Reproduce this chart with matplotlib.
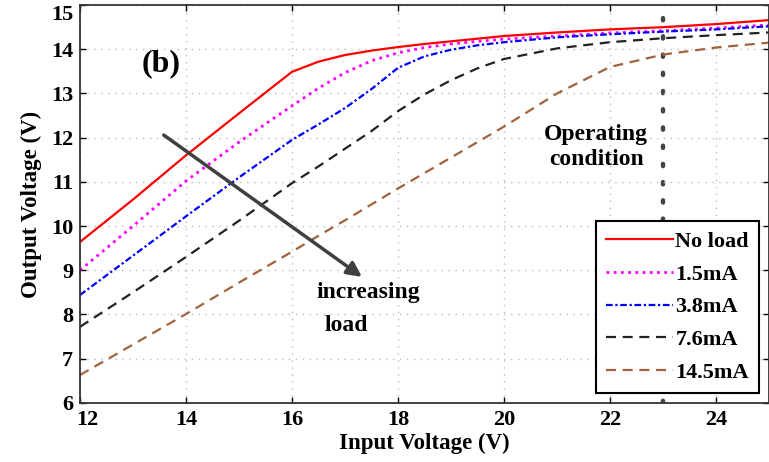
import numpy as np
import matplotlib
matplotlib.use('Agg')
import matplotlib.pyplot as plt
import matplotlib.transforms as mtransforms

plt.rc('font', family='serif', weight='bold')
plt.rc('font', serif=['Liberation Serif', 'DejaVu Serif'])
plt.rc('axes', labelweight='bold')

# input voltage grid (V)
vin = [12, 13, 14, 15, 16, 16.5, 17, 17.5, 18, 18.5, 19, 19.5, 20, 21, 22, 23, 24, 25]

# output voltage for each load (V)
noLoad = [9.64, 10.6, 11.6, 12.55, 13.49, 13.72, 13.87, 13.97, 14.05, 14.12, 14.18, 14.24,
          14.30, 14.38, 14.45, 14.50, 14.57, 14.66]
load1p5 = [9.0, 10.0, 11.02, 11.9, 12.72, 13.12, 13.47, 13.74, 13.92, 14.04, 14.12, 14.18,
           14.23, 14.30, 14.37, 14.42, 14.48, 14.55]
load3p8 = [8.44, 9.33, 10.22, 11.1, 11.95, 12.3, 12.67, 13.1, 13.58, 13.84, 13.99, 14.09,
           14.16, 14.27, 14.34, 14.40, 14.45, 14.52]
load7p6 = [7.72, 8.5, 9.3, 10.12, 10.97, 11.35, 11.75, 12.15, 12.6, 12.98, 13.3, 13.57,
           13.78, 14.02, 14.16, 14.25, 14.32, 14.38]
load14p5 = [6.63, 7.32, 8.01, 8.72, 9.42, 9.78, 10.13, 10.49, 10.85, 11.2, 11.55, 11.9,
            12.25, 13.0, 13.6, 13.88, 14.04, 14.15]

labels = ["No load", "1.5mA", "3.8mA", "7.6mA", "14.5mA"]
opPoint = 23

fig = plt.figure(figsize=(7.69, 4.62), dpi=100)
ax = fig.add_axes([0.104, 0.128, 0.896, 0.861])

ax.plot(vin, noLoad, color='#ff0000', lw=1.6, label=labels[0])
ax.plot(vin, load1p5, color='#ff00ff', lw=2.0, ls=(0, (1, 1.6)), label=labels[1])
ax.plot(vin, load3p8, color='#0000ff', lw=1.6, ls=(0, (3, 1.2, 1, 1.2)), label=labels[2])
ax.plot(vin, load7p6, color='#222222', lw=1.6, ls=(0, (4.5, 3)), label=labels[3])
ax.plot(vin, load14p5, color='#a0643c', lw=1.6, ls=(0, (4.5, 3)), label=labels[4])

# operating condition marker
ax.axvline(opPoint, color='#444444', lw=3.2, ls=(0, (0.5, 3.6)),
           dash_capstyle='round', zorder=1)

# increasing-load arrow
ax.annotate('', xy=(17.32, 8.85), xytext=(13.58, 12.06),
            arrowprops=dict(arrowstyle='-|>', color='#404040', lw=2.5,
                            mutation_scale=22, shrinkA=0, shrinkB=0))
ax.text(16.47, 8.49, 'increasing', fontsize=17, va='center', ha='left')
ax.text(16.62, 7.76, 'load', fontsize=17, va='center', ha='left')
ax.text(21.74, 11.79, 'Operating\ncondition', fontsize=17, ha='center', va='center',
        linespacing=1.2)
ax.text(13.54, 13.67, '(b)', fontsize=23, ha='center', va='center')

ax.set_xlim(12, 25)
ax.set_ylim(6, 15)
ax.set_xticks(np.arange(12, 25, 2))
ax.set_yticks(np.arange(6, 16, 1))
ax.tick_params(direction='in', top=True, right=True, labelsize=16, length=4, width=1,
               pad=5)
ax.grid(True, color='#bbbbbb', ls=(0, (1, 4)), lw=1)
for s in ax.spines.values():
    s.set_linewidth(1.3)
    s.set_color('#333333')
# keep the top y label inside the figure
ax.get_yticklabels()[-1].set_va('top')
# nudge the first x label right, clear of the "6"
shift = mtransforms.ScaledTranslation(0.07, 0, fig.dpi_scale_trans)
first = ax.get_xticklabels()[0]
first.set_transform(first.get_transform() + shift)

ax.set_xlabel('Input Voltage (V)', fontsize=16.5, labelpad=2)
ax.set_ylabel('Output Voltage (V)', fontsize=16.5, labelpad=6)

leg = ax.legend(loc='lower right', fontsize=16, handlelength=3.0, handletextpad=0.1,
                borderaxespad=0.45, fancybox=False, framealpha=1, edgecolor='black',
                labelspacing=0.55, borderpad=0.45)
leg.get_frame().set_linewidth(1.5)

plt.savefig('out.png', dpi=100)
